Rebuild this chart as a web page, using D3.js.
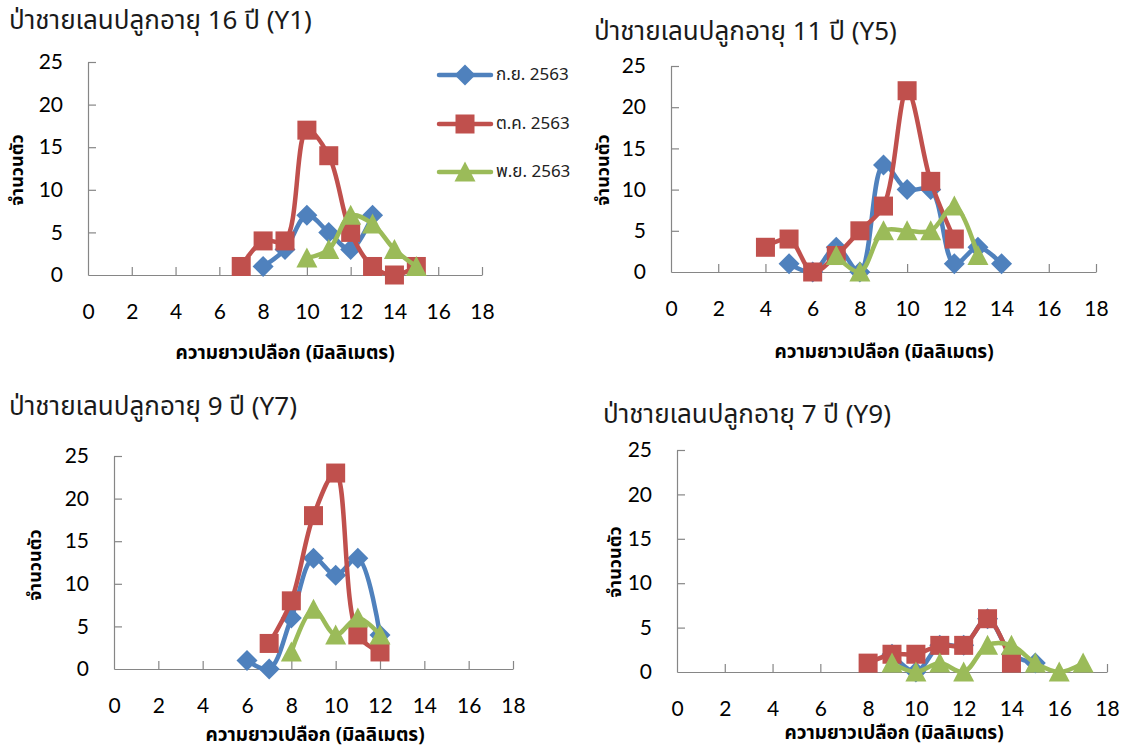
<!DOCTYPE html>
<html><head><meta charset="utf-8">
<script src="https://cdn.jsdelivr.net/npm/d3@7/dist/d3.min.js"></script>
<style>body{margin:0;background:#fff}</style>
</head><body>
<svg id="c" width="1129" height="749"></svg>
<script>
// ---------- data ----------
const seriesNames = ["ก.ย. 2563", "ต.ค. 2563", "พ.ย. 2563"];
const seriesColors = ["#4F81BD", "#C0504D", "#9BBB59"];
const panelTitles = [
  "ป่าชายเลนปลูกอายุ 16 ปี (Y1)",
  "ป่าชายเลนปลูกอายุ 11 ปี (Y5)",
  "ป่าชายเลนปลูกอายุ 9 ปี (Y7)",
  "ป่าชายเลนปลูกอายุ 7 ปี (Y9)"
];
const xAxisTitle = "ความยาวเปลือก (มิลลิเมตร)";
const yAxisTitle = "จำนวนตัว";
const xTickValues = [0, 2, 4, 6, 8, 10, 12, 14, 16, 18];
const yTickValues = [0, 5, 10, 15, 20, 25];

// Y1
const y1SepLen = [8, 9, 10, 11, 12, 13];
const y1SepCount = [1, 3, 7, 5, 3, 7];
const y1OctLen = [7, 8, 9, 10, 11, 12, 13, 14, 15];
const y1OctCount = [1, 4, 4, 17, 14, 5, 1, 0, 1];
const y1NovLen = [10, 11, 12, 13, 14, 15];
const y1NovCount = [2, 3, 7, 6, 3, 1];
// Y5
const y5SepLen = [5, 6, 7, 8, 9, 10, 11, 12, 13, 14];
const y5SepCount = [1, 0, 3, 0, 13, 10, 10, 1, 3, 1];
const y5OctLen = [4, 5, 6, 7, 8, 9, 10, 11, 12];
const y5OctCount = [3, 4, 0, 2, 5, 8, 22, 11, 4];
const y5NovLen = [7, 8, 9, 10, 11, 12, 13];
const y5NovCount = [2, 0, 5, 5, 5, 8, 2];
// Y7
const y7SepLen = [6, 7, 8, 9, 10, 11, 12];
const y7SepCount = [1, 0, 6, 13, 11, 13, 4];
const y7OctLen = [7, 8, 9, 10, 11, 12];
const y7OctCount = [3, 8, 18, 23, 4, 2];
const y7NovLen = [8, 9, 10, 11, 12];
const y7NovCount = [2, 7, 4, 6, 4];
// Y9
const y9SepLen = [9, 10, 11, 12, 13, 14, 15];
const y9SepCount = [2, 0, 3, 3, 6, 2, 1];
const y9OctLen = [8, 9, 10, 11, 12, 13, 14];
const y9OctCount = [1, 2, 2, 3, 3, 6, 1];
const y9NovLen = [9, 10, 11, 12, 13, 14, 15, 16, 17];
const y9NovCount = [1, 0, 1, 0, 3, 3, 1, 0, 1];

const zip = (a, b) => a.map((v, i) => ({x: v, y: b[i]}));
const panelData = [
  [zip(y1SepLen, y1SepCount), zip(y1OctLen, y1OctCount), zip(y1NovLen, y1NovCount)],
  [zip(y5SepLen, y5SepCount), zip(y5OctLen, y5OctCount), zip(y5NovLen, y5NovCount)],
  [zip(y7SepLen, y7SepCount), zip(y7OctLen, y7OctCount), zip(y7NovLen, y7NovCount)],
  [zip(y9SepLen, y9SepCount), zip(y9OctLen, y9OctCount), zip(y9NovLen, y9NovCount)]
];

// ---------- layout ----------
const layout = [
  {l: 88, r: 482, t: 62, b: 275, tx: 9, ty: 21, yx: 17, yy: 170, xx: 285, xy: 353},
  {l: 671, r: 1096, t: 66, b: 272, tx: 594, ty: 32, yx: 603, yy: 170, xx: 884, xy: 352},
  {l: 114, r: 513, t: 456, b: 669, tx: 9, ty: 407, yx: 35, yy: 565, xx: 315, xy: 735},
  {l: 677, r: 1107, t: 450, b: 672, tx: 603, ty: 415, yx: 615, yy: 562, xx: 894, xy: 733}
];
const numFont = "Lato, 'Open Sans', sans-serif";
const thaiFont = "'Noto Sans Thai', 'Noto Sans', Tahoma, 'DejaVu Sans', sans-serif";
const axisColor = "#868686";

const svg = d3.select("#c");

function marker(sel, k, color) {
  if (k === 0) sel.append("path").attr("d", "M0,-10.5L10.5,0L0,10.5L-10.5,0Z").attr("fill", color);
  else if (k === 1) sel.append("rect").attr("x", -9.5).attr("y", -9.5).attr("width", 19).attr("height", 19).attr("fill", color);
  else sel.append("path").attr("d", "M0,-10.5L10.5,9.5L-10.5,9.5Z").attr("fill", color);
}

layout.forEach((L, pi) => {
  const g = svg.append("g");
  const x = d3.scaleLinear().domain([0, 18]).range([L.l, L.r]);
  const y = d3.scaleLinear().domain([0, 25]).range([L.b, L.t]);

  // title
  g.append("text").attr("x", L.tx).attr("y", L.ty).attr("dominant-baseline", "central")
    .attr("font-family", thaiFont).attr("font-size", 26).attr("fill", "#1a1a1a")
    .text(panelTitles[pi]);

  // axes
  const yAx = g.append("g").attr("transform", `translate(${L.l},0)`)
    .call(d3.axisLeft(y).tickValues(yTickValues).tickSizeInner(-8).tickSizeOuter(0).tickPadding(25));
  const xAx = g.append("g").attr("transform", `translate(0,${L.b})`)
    .call(d3.axisBottom(x).tickValues(xTickValues).tickSizeInner(-8).tickSizeOuter(0).tickPadding(29));
  [yAx, xAx].forEach(a => {
    a.select(".domain").attr("stroke", axisColor).attr("stroke-width", 1.2);
    a.selectAll(".tick line").attr("stroke", axisColor).attr("stroke-width", 1.2);
    a.selectAll(".tick text").attr("font-family", numFont).attr("font-size", 21).attr("fill", "#000");
  });
  xAx.selectAll(".tick").filter(d => d === 0).select("line").remove();
  yAx.selectAll(".tick").filter(d => d === 0).select("line").remove();

  // axis titles
  g.append("text").attr("x", L.xx).attr("y", L.xy).attr("text-anchor", "middle").attr("dominant-baseline", "central")
    .attr("font-family", thaiFont).attr("font-size", 19).attr("font-weight", "bold").attr("fill", "#000")
    .text(xAxisTitle);
  g.append("text").attr("transform", `translate(${L.yx},${L.yy}) rotate(-90)`)
    .attr("text-anchor", "middle").attr("dominant-baseline", "central")
    .attr("font-family", thaiFont).attr("font-size", 18).attr("font-weight", "bold").attr("fill", "#000")
    .text(yAxisTitle);

  // series
  const line = d3.line().x(d => x(d.x)).y(d => y(d.y)).curve(d3.curveCatmullRom.alpha(0.5));
  panelData[pi].forEach((data, k) => {
    const sg = g.append("g");
    sg.append("path").attr("d", line(data)).attr("fill", "none")
      .attr("stroke", seriesColors[k]).attr("stroke-width", 4.5).attr("stroke-linejoin", "round").attr("stroke-linecap", "round");
    data.forEach(d => {
      const m = sg.append("g").attr("transform", `translate(${x(d.x)},${y(d.y)})`);
      marker(m, k, seriesColors[k]);
    });
  });

  // legend in first panel
  if (pi === 0) {
    const rows = [75, 124, 172];
    seriesNames.forEach((n, k) => {
      const lg = g.append("g").attr("transform", `translate(0,${rows[k]})`);
      lg.append("line").attr("x1", 439).attr("x2", 491).attr("y1", 0).attr("y2", 0)
        .attr("stroke", seriesColors[k]).attr("stroke-width", 4.5).attr("stroke-linecap", "round");
      const m = lg.append("g").attr("transform", "translate(465,0)");
      marker(m, k, seriesColors[k]);
      lg.append("text").attr("x", 496).attr("y", 0).attr("dominant-baseline", "central")
        .attr("font-family", thaiFont).attr("font-size", 17).attr("fill", "#222").text(n);
    });
  }
});
</script>
</body></html>
